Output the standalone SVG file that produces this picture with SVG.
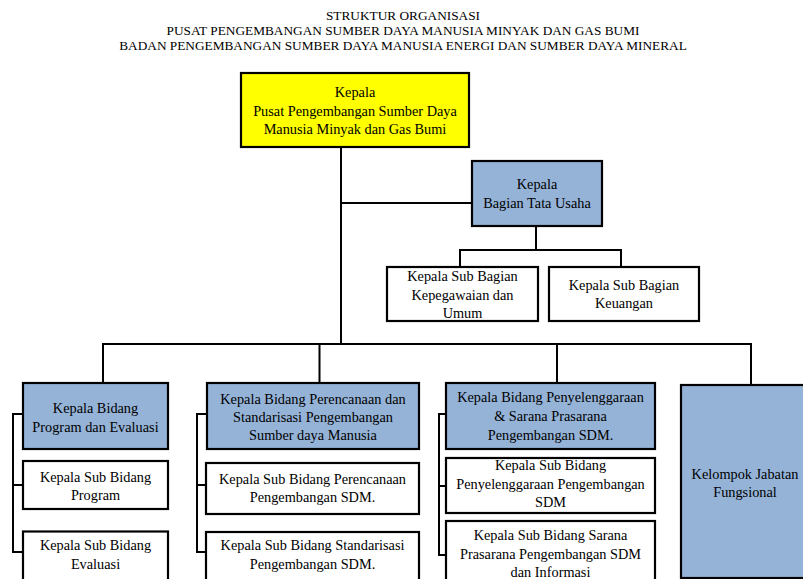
<svg xmlns="http://www.w3.org/2000/svg" width="803" height="579" viewBox="0 0 803 579">
<style>
text{font-family:"Liberation Serif","Times New Roman",serif;fill:#000;text-anchor:middle}
.t{font-size:13.3px}
.n{font-size:14.3px}
.box{stroke:#000;stroke-width:2.2}
.y{fill:#FFFF00}
.b{fill:#95B3D7}
.w{fill:#FFFFFF}
.c{fill:none;stroke:#000;stroke-width:2}
</style>
<rect width="803" height="579" fill="#fff"/>
<g id="title">
<text class="t" x="403" y="19.5">STRUKTUR ORGANISASI</text>
<text class="t" x="403" y="35">PUSAT PENGEMBANGAN SUMBER DAYA MANUSIA MINYAK DAN GAS BUMI</text>
<text class="t" x="403" y="50">BADAN PENGEMBANGAN SUMBER DAYA MANUSIA ENERGI DAN SUMBER DAYA MINERAL</text>
</g>
<g id="connectors">
<path class="c" d="M341 147V344M341 203H472M536 226V250M460 267V250H621V267"/>
<path class="c" d="M103 383V344H751V385M319.5 344V383M557 344V383"/>
<path class="c" d="M23 414H13V552H23M13 485H23"/>
<path class="c" d="M207 414H197V552H206M197 485H206"/>
<path class="c" d="M446 414H439V555H446M439 486H446"/>
</g>
<g id="kepala">
<rect class="box y" x="241" y="73" width="228" height="74"/>
<text class="n" x="355" y="97">Kepala</text>
<text class="n" x="355" y="115.5">Pusat Pengembangan Sumber Daya</text>
<text class="n" x="355" y="134">Manusia Minyak dan Gas Bumi</text>
</g>
<g id="tata-usaha">
<rect class="box b" x="472" y="161" width="130" height="65"/>
<text class="n" x="537" y="189">Kepala</text>
<text class="n" x="537" y="207.5">Bagian Tata Usaha</text>
</g>
<g id="sub-kepegawaian">
<rect class="box w" x="387" y="267" width="151" height="54"/>
<text class="n" x="462.5" y="281">Kepala Sub Bagian</text>
<text class="n" x="462.5" y="299.5">Kepegawaian dan</text>
<text class="n" x="462.5" y="318">Umum</text>
</g>
<g id="sub-keuangan">
<rect class="box w" x="549" y="267" width="150" height="54"/>
<text class="n" x="624" y="289.5">Kepala Sub Bagian</text>
<text class="n" x="624" y="307.5">Keuangan</text>
</g>
<g id="bidang-program">
<rect class="box b" x="23" y="383" width="145" height="66"/>
<text class="n" x="95.5" y="413">Kepala Bidang</text>
<text class="n" x="95.5" y="431.5">Program dan Evaluasi</text>
</g>
<g id="sub-program">
<rect class="box w" x="23" y="461" width="145" height="48"/>
<text class="n" x="95.5" y="481.5">Kepala Sub Bidang</text>
<text class="n" x="95.5" y="499.5">Program</text>
</g>
<g id="sub-evaluasi">
<rect class="box w" x="23" y="531.5" width="145" height="60"/>
<text class="n" x="95.5" y="550">Kepala Sub Bidang</text>
<text class="n" x="95.5" y="568.5">Evaluasi</text>
</g>
<g id="bidang-perencanaan">
<rect class="box b" x="207" y="383" width="212" height="66"/>
<text class="n" x="313" y="403.5">Kepala Bidang Perencanaan dan</text>
<text class="n" x="313" y="422">Standarisasi Pengembangan</text>
<text class="n" x="313" y="440">Sumber daya Manusia</text>
</g>
<g id="sub-perencanaan">
<rect class="box w" x="206" y="463" width="213" height="51"/>
<text class="n" x="312.5" y="484">Kepala Sub Bidang Perencanaan</text>
<text class="n" x="312.5" y="502">Pengembangan SDM.</text>
</g>
<g id="sub-standarisasi">
<rect class="box w" x="206" y="532" width="213" height="60"/>
<text class="n" x="312.5" y="550">Kepala Sub Bidang Standarisasi</text>
<text class="n" x="312.5" y="568.5">Pengembangan SDM.</text>
</g>
<g id="bidang-penyelenggaraan">
<rect class="box b" x="446" y="383" width="209" height="66"/>
<text class="n" x="550.5" y="401.5">Kepala Bidang Penyelenggaraan</text>
<text class="n" x="550.5" y="420.5">&amp; Sarana Prasarana</text>
<text class="n" x="550.5" y="440">Pengembangan SDM.</text>
</g>
<g id="sub-penyelenggaraan">
<rect class="box w" x="446" y="458" width="209" height="55"/>
<text class="n" x="550.5" y="470">Kepala Sub Bidang</text>
<text class="n" x="550.5" y="489">Penyelenggaraan Pengembangan</text>
<text class="n" x="550.5" y="507">SDM</text>
</g>
<g id="sub-sarana">
<rect class="box w" x="446" y="521" width="209" height="70"/>
<text class="n" x="550.5" y="539.5">Kepala Sub Bidang Sarana</text>
<text class="n" x="550.5" y="558.5">Prasarana Pengembangan SDM</text>
<text class="n" x="550.5" y="577">dan Informasi</text>
</g>
<g id="fungsional">
<rect class="box b" x="681" y="385" width="130" height="193"/>
<text class="n" x="745" y="479">Kelompok Jabatan</text>
<text class="n" x="745" y="497">Fungsional</text>
</g>
</svg>
